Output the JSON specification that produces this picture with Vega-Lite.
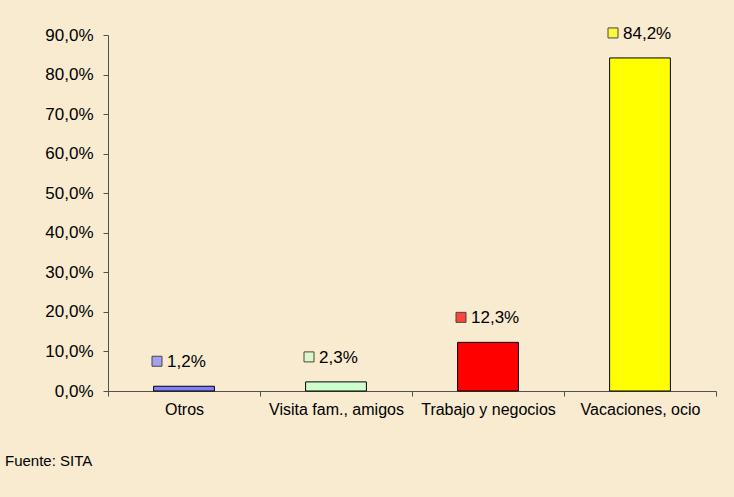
{
  "$schema": "https://vega.github.io/schema/vega-lite/v6.json",
  "autosize": {"type": "none"},
  "padding": {"left": 108, "top": 35, "right": 18, "bottom": 106},
  "width": 608,
  "height": 356,
  "background": "#F8EBD0",
  "config": {
    "view": {"stroke": null},
    "font": "Liberation Sans",
    "locale": {"number": {"decimal": ",", "thousands": ".", "grouping": [3], "currency": ["", " €"]}},
    "axis": {"labelFont": "Liberation Sans", "labelColor": "#000000", "domainColor": "#505050", "tickColor": "#505050", "grid": false}
  },
  "title": {
    "text": "Fuente: SITA",
    "orient": "bottom",
    "anchor": "start",
    "frame": "group",
    "dx": -103,
    "offset": 37,
    "fontSize": 15,
    "fontWeight": "normal",
    "font": "Liberation Sans",
    "color": "#000000"
  },
  "data": {
    "values": [
      {"motivo": "Otros", "pct": 0.012, "color": "#8080FF"},
      {"motivo": "Visita fam., amigos", "pct": 0.023, "color": "#CCFFCC"},
      {"motivo": "Trabajo y negocios", "pct": 0.123, "color": "#FF0000"},
      {"motivo": "Vacaciones, ocio", "pct": 0.842, "color": "#FFFF00"}
    ]
  },
  "encoding": {
    "x": {
      "field": "motivo",
      "type": "nominal",
      "sort": null,
      "scale": {"paddingInner": 0, "paddingOuter": 0},
      "axis": {"title": null, "labelAngle": 0, "labelFontSize": 16, "tickBand": "extent", "tickSize": 5, "labelPadding": 5, "domainWidth": 1}
    },
    "y": {
      "field": "pct",
      "type": "quantitative",
      "scale": {"domain": [0, 0.9], "nice": false},
      "axis": {"title": null, "values": [0, 0.1, 0.2, 0.3, 0.4, 0.5, 0.6, 0.7, 0.8, 0.9], "format": ".1%", "labelFontSize": 17, "tickSize": 5, "labelPadding": 10}
    }
  },
  "layer": [
    {
      "mark": {"type": "bar", "width": {"band": 0.4}, "stroke": "#000000", "strokeWidth": 1},
      "encoding": {"color": {"field": "color", "type": "nominal", "scale": null}}
    },
    {
      "mark": {"type": "point", "shape": "square", "filled": true, "size": 100, "stroke": "#000000", "strokeWidth": 1, "xOffset": -27, "yOffset": -25},
      "encoding": {"fill": {"field": "color", "type": "nominal", "scale": null}}
    },
    {
      "mark": {"type": "text", "align": "left", "baseline": "middle", "dx": -17, "dy": -24, "fontSize": 17, "color": "#000000"},
      "encoding": {"text": {"field": "pct", "type": "quantitative", "format": ".1%"}}
    }
  ]
}
